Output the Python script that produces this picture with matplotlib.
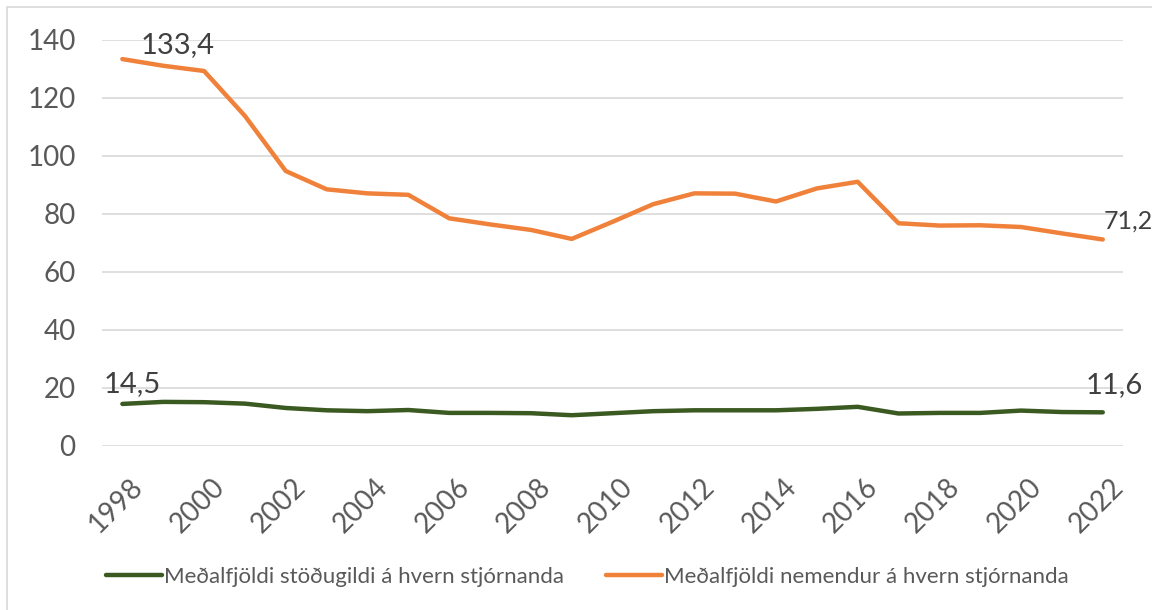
import matplotlib.pyplot as plt
import matplotlib.transforms as mtransforms
from matplotlib.patches import Rectangle

years = list(range(1998, 2023))
stodugildi = [14.5, 15.2, 15.1, 14.6, 13.1, 12.3, 12.0, 12.4, 11.4, 11.4, 11.3, 10.6, 11.3,
              12.0, 12.3, 12.3, 12.3, 12.8, 13.5, 11.2, 11.4, 11.4, 12.2, 11.7, 11.6]
nemendur = [133.4, 131.1, 129.3, 113.8, 94.8, 88.5, 87.1, 86.6, 78.5, 76.4, 74.5, 71.4, 77.3,
            83.4, 87.1, 87.0, 84.3, 88.8, 91.1, 76.8, 76.0, 76.1, 75.5, 73.3, 71.2]
labels = ["Meðalfjöldi stöðugildi á hvern stjórnanda", "Meðalfjöldi nemendur á hvern stjórnanda"]

plt.rcParams['font.family'] = ['Lato', 'DejaVu Sans']
green = '#3a5a22'
orange = '#f0813a'
txt = '#595959'

fig = plt.figure(figsize=(11.52, 6.10), dpi=100)
ax = fig.add_axes([0.0885, 0.2689, 0.8865, 0.6656])

p1, = ax.plot(years, stodugildi, color=green, lw=3.2, solid_capstyle='round', label=labels[0])
p2, = ax.plot(years, nemendur, color=orange, lw=3.2, solid_capstyle='round', label=labels[1])

ax.set_xlim(1997.5, 2022.5)
ax.set_ylim(0, 140)
ax.set_yticks(range(0, 141, 20))
ax.set_xticks(years[::2])
ax.grid(axis='y', color='#d9d9d9', lw=1.2)
ax.set_axisbelow(True)
for s in ax.spines.values():
    s.set_visible(False)
ax.tick_params(axis='both', length=0, labelsize=20, labelcolor=txt)
ax.tick_params(axis='y', pad=19)
ax.tick_params(axis='x', pad=20)
shift = mtransforms.ScaledTranslation(7 / 100, 0, fig.dpi_scale_trans)
for lab in ax.get_xticklabels():
    lab.set_rotation(45)
    lab.set_ha('right')
    lab.set_rotation_mode('anchor')
    lab.set_transform(lab.get_transform() + shift)

def fmt(v):
    return ("%.1f" % v).replace('.', ',')

lc = '#404040'
ax.annotate(fmt(nemendur[0]), (years[0], nemendur[0]), xytext=(13, 4), textcoords='offset points',
            fontsize=21, color=lc, va='baseline', ha='left')
# last label sits at the right edge
ax.annotate(fmt(nemendur[-1]), (years[-1], nemendur[-1]), xytext=(0.5, 8), textcoords='offset points',
            fontsize=18, color=lc, va='baseline', ha='left')
ax.annotate(fmt(stodugildi[0]), (years[0], stodugildi[0]), xytext=(-13.5, 8.5), textcoords='offset points',
            fontsize=21, color=lc, va='baseline', ha='left')
ax.annotate(fmt(stodugildi[-1]), (years[-1], stodugildi[-1]), xytext=(-12.5, 14), textcoords='offset points',
            fontsize=21, color=lc, va='baseline', ha='left')

fig.legend(handles=[p1, p2], loc='center', bbox_to_anchor=(0.51, 0.054), ncol=2, frameon=False,
           fontsize=16, labelcolor=txt, handlelength=2.5, handletextpad=0.1, columnspacing=1.9)

fig.patches.append(Rectangle((7 / 1152, -0.1), 1.2, (603 / 610) + 0.1, transform=fig.transFigure,
                             fill=False, edgecolor='#d9d9d9', lw=1.2))

fig.savefig('out.png', dpi=100)
